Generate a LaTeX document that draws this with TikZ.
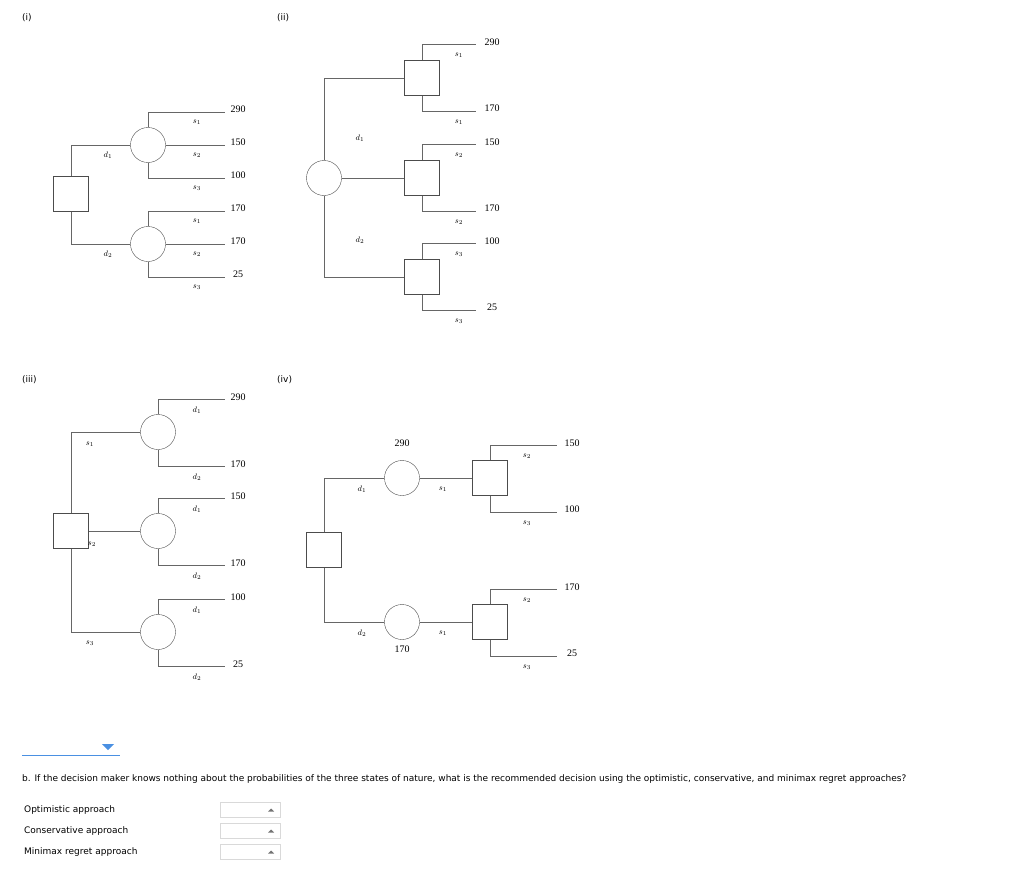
\documentclass[tikz,border=0pt]{standalone}
\usepackage{fontspec}
\setmainfont{Liberation Serif}
\newfontfamily\uifont{DejaVu Sans}
\definecolor{uiblue}{RGB}{74,144,226}
\begin{document}
\begin{tikzpicture}[x=1pt,y=-1pt,
    chance/.style={draw=black!70,circle,minimum size=35pt,inner sep=0pt},
    decision/.style={draw=black!70,rectangle,minimum size=35pt,inner sep=0pt},
    branch/.style={draw=black!60,line width=.7pt},
    val/.style={font=\fontsize{10}{10}\selectfont,inner sep=0pt},
    lab/.style={font=\footnotesize,inner sep=0pt},
    ui/.style={font=\uifont\fontsize{9}{10}\selectfont,inner sep=0pt,anchor=west}]
    \useasboundingbox (0,0) rectangle (1024,872);
    % Panel titles
    \node[ui] (ti) at (22,18) {(i)};
    \node[ui] (tii) at (277,18) {(ii)};
    \node[ui] (tiii) at (22,380) {(iii)};
    \node[ui] (tiv) at (277,380) {(iv)};
    \draw[line width=1.5pt] (-3,229) arc (-60:60:-8pt and 8pt);
    % Tree (i)
    \node[decision] (ia) at (71,194) {};
    \node[chance] (ic1) at (148,145) {};
    \node[chance] (ic2) at (148,244) {};
    \draw[branch] (ia.north) |- (ic1.west);
    \draw[branch] (ia.south) |- (ic2.west);
    \node[lab] (id1) at (108,155) {$d_1$};
    \node[lab] (id2) at (108,254) {$d_2$};
    \foreach \c/\y/\a/\b/\d in {ic1/145/290/150/100,ic2/244/170/170/25}{
        \coordinate (\c t) at (225,\y-33);
        \coordinate (\c m) at (225,\y);
        \coordinate (\c b) at (225,\y+33);
        \draw[branch] (\c.north) |- (\c t);
        \draw[branch] (\c.east) -- (\c m);
        \draw[branch] (\c.south) |- (\c b);
        \node[val] (\c va) at (238,\y-36) {\a};
        \node[val] (\c vb) at (238,\y-3) {\b};
        \node[val] (\c vc) at (238,\y+30) {\d};
        \node[lab] (\c sa) at (197,\y-23) {$s_1$};
        \node[lab] (\c sb) at (197,\y+10) {$s_2$};
        \node[lab] (\c sc) at (197,\y+43) {$s_3$};
    }
    % Tree (ii)
    \node[chance] (iia) at (324,178) {};
    \node[decision] (iiq1) at (422,78) {};
    \node[decision] (iiq2) at (422,178) {};
    \node[decision] (iiq3) at (422,277) {};
    \draw[branch] (iia.north) |- (iiq1.west);
    \draw[branch] (iia.east) -- (iiq2.west);
    \draw[branch] (iia.south) |- (iiq3.west);
    \node[lab] (iid1) at (360,138) {$d_1$};
    \node[lab] (iid2) at (360,240) {$d_2$};
    \foreach \c/\y/\a/\b/\s in {iiq1/78/290/170/1,iiq2/178/150/170/2,iiq3/277/100/25/3}{
        \coordinate (\c t) at (476,\y-34);
        \coordinate (\c b) at (476,\y+33);
        \draw[branch] (\c.north) |- (\c t);
        \draw[branch] (\c.south) |- (\c b);
        \node[val] (\c va) at (492,\y-36) {\a};
        \node[val] (\c vb) at (492,\y+30) {\b};
        \node[lab] (\c sa) at (459,\y-23) {$s_\s$};
        \node[lab] (\c sb) at (459,\y+44) {$s_\s$};
    }
    % Tree (iii)
    \node[decision] (iiia) at (71,531) {};
    \node[chance] (iiic1) at (158,432) {};
    \node[chance] (iiic2) at (158,531) {};
    \node[chance] (iiic3) at (158,632) {};
    \draw[branch] (iiia.north) |- (iiic1.west);
    \draw[branch] (iiia.east) -- (iiic2.west);
    \draw[branch] (iiia.south) |- (iiic3.west);
    \node[lab] (iiis1) at (90,444) {$s_1$};
    \node[lab] (iiis2) at (92,544) {$s_2$};
    \node[lab] (iiis3) at (90,643) {$s_3$};
    \foreach \c/\y/\a/\b in {iiic1/432/290/170,iiic2/531/150/170,iiic3/632/100/25}{
        \coordinate (\c t) at (225,\y-33);
        \coordinate (\c b) at (225,\y+34);
        \draw[branch] (\c.north) |- (\c t);
        \draw[branch] (\c.south) |- (\c b);
        \node[val] (\c va) at (238,\y-35) {\a};
        \node[val] (\c vb) at (238,\y+32) {\b};
        \node[lab] (\c da) at (197,\y-22) {$d_1$};
        \node[lab] (\c db) at (197,\y+45) {$d_2$};
    }
    % Tree (iv)
    \node[decision] (iva) at (324,550) {};
    \node[chance] (ivc1) at (402,478) {};
    \node[chance] (ivc2) at (402,622) {};
    \node[decision] (ivq1) at (490,478) {};
    \node[decision] (ivq2) at (490,622) {};
    \draw[branch] (iva.north) |- (ivc1.west);
    \draw[branch] (iva.south) |- (ivc2.west);
    \draw[branch] (ivc1.east) -- (ivq1.west);
    \draw[branch] (ivc2.east) -- (ivq2.west);
    \node[val] (ivv1) at (402,443) {290};
    \node[val] (ivv2) at (402,649) {170};
    \node[lab] (ivd1) at (362,489) {$d_1$};
    \node[lab] (ivd2) at (362,633) {$d_2$};
    \node[lab] (ivs1) at (443,489) {$s_1$};
    \node[lab] (ivs2) at (443,633) {$s_1$};
    \foreach \c/\y/\a/\b in {ivq1/478/150/100,ivq2/622/170/25}{
        \coordinate (\c t) at (557,\y-33);
        \coordinate (\c b) at (557,\y+34);
        \draw[branch] (\c.north) |- (\c t);
        \draw[branch] (\c.south) |- (\c b);
        \node[val] (\c va) at (572,\y-35) {\a};
        \node[val] (\c vb) at (572,\y+31) {\b};
        \node[lab] (\c sa) at (527,\y-22) {$s_2$};
        \node[lab] (\c sb) at (527,\y+45) {$s_3$};
    }
    % Answer part
    \draw[uiblue,line width=1pt] (22,755) -- (120,755);
    \fill[uiblue] (102,744) -- (114,744) -- (108,750) -- cycle;
    \node[ui] (qb) at (22,779) {b. If the decision maker knows nothing about the probabilities of the three states of nature, what is the recommended decision using the optimistic, conservative, and minimax regret approaches?};
    \foreach \t/\y/\n in {Optimistic approach/810/opt,Conservative approach/831/con,Minimax regret approach/852/mmr}{
        \node[ui] (\n) at (24,\y) {\t};
        \node[draw=black!15,minimum width=60pt,minimum height=15pt,inner sep=0pt] (\n box) at (250,\y) {};
        \fill[black!55] ([xshift=-12pt,yshift=-1.5pt]\n box.east) -- ([xshift=-6pt,yshift=-1.5pt]\n box.east) -- ([xshift=-9pt,yshift=1.5pt]\n box.east) -- cycle;
    }
\end{tikzpicture}
\end{document}
